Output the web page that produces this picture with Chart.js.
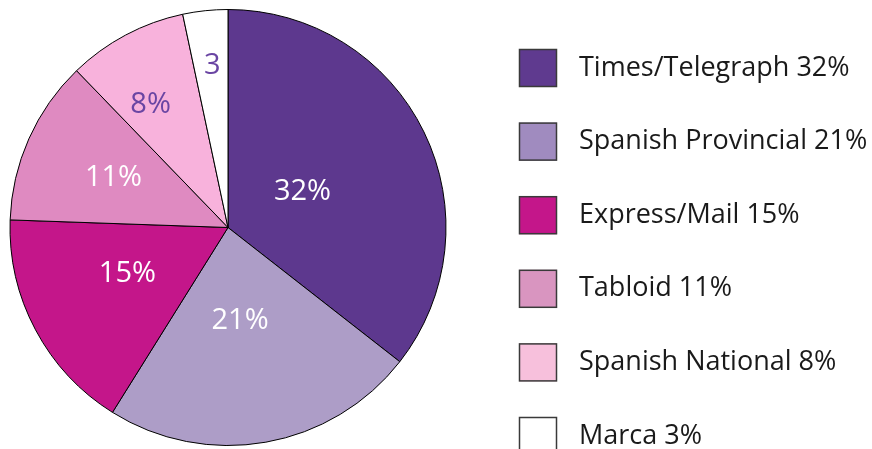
<!DOCTYPE html>
<html>
<head>
<meta charset="utf-8">
<script src="https://cdn.jsdelivr.net/npm/chart.js@4/dist/chart.umd.min.js"></script>
<style>
html,body{margin:0;padding:0;background:#fff;}
#wrap{position:relative;width:872px;height:449px;}
</style>
</head>
<body>
<div id="wrap"><canvas id="c" width="872" height="449"></canvas></div>
<script>
const categories = ["Times/Telegraph", "Spanish Provincial", "Express/Mail", "Tabloid", "Spanish National", "Marca"];
const values = [32, 21, 15, 11, 8, 3];
const sliceLabels = ["32%", "21%", "15%", "11%", "8%", "3"];
const legendLabels = ["Times/Telegraph 32%", "Spanish Provincial 21%", "Express/Mail 15%", "Tabloid 11%", "Spanish National 8%", "Marca 3%"];

const sliceColors = ["#5d388e", "#ad9dc7", "#c4168a", "#df8ac1", "#f8b2dc", "#ffffff"];
const legendColors = ["#5f3a8f", "#a08bbf", "#c4168a", "#d995c0", "#f7c0dc", "#ffffff"];
const labelColors = ["#ffffff", "#ffffff", "#ffffff", "#ffffff", "#6a45a3", "#6a45a3"];
const labelRadius = [0.38, 0.425, 0.505, 0.575, 0.67, 0.75];
const labelAngleShift = [0, 2.5, 4, 0, -4, 0.5];

const sliceLabelPlugin = {
  id: 'sliceLabels',
  afterDatasetsDraw(chart) {
    const ctx = chart.ctx;
    const meta = chart.getDatasetMeta(0);
    ctx.save();
    ctx.font = '29px "Open Sans"';
    ctx.textAlign = 'center';
    ctx.textBaseline = 'middle';
    meta.data.forEach((arc, i) => {
      const p = arc.getProps(['x','y','startAngle','endAngle','outerRadius'], true);
      const a = (p.startAngle + p.endAngle) / 2 + labelAngleShift[i] * Math.PI / 180;
      const r = p.outerRadius * labelRadius[i];
      ctx.fillStyle = labelColors[i];
      ctx.fillText(sliceLabels[i], p.x + Math.cos(a) * r, p.y + Math.sin(a) * r + 1);
    });
    ctx.restore();
  }
};

const legendPlugin = {
  id: 'customLegend',
  afterDraw(chart) {
    const ctx = chart.ctx;
    ctx.save();
    const x0 = 519, boxSize = 38, top0 = 49, step = 73.6;
    ctx.font = '27px "Open Sans"';
    ctx.textBaseline = 'middle';
    ctx.textAlign = 'left';
    legendLabels.forEach((t, i) => {
      const y = top0 + i * step;
      ctx.fillStyle = legendColors[i];
      ctx.fillRect(x0, y, boxSize, boxSize);
      ctx.strokeStyle = '#3a3a3a';
      ctx.lineWidth = 1.5;
      ctx.strokeRect(x0 + 0.5, y + 0.5, boxSize - 1, boxSize - 1);
      ctx.fillStyle = '#1a1a1a';
      ctx.fillText(t, 579, y + boxSize / 2);
    });
    ctx.restore();
  }
};

new Chart(document.getElementById('c'), {
  type: 'pie',
  data: {
    labels: categories,
    datasets: [{
      data: values,
      backgroundColor: sliceColors,
      borderColor: '#000000',
      borderWidth: 1
    }]
  },
  options: {
    responsive: false,
    animation: false,
    events: [],
    layout: { padding: { left: 9, top: 9, right: 425, bottom: 3 } },
    plugins: { legend: { display: false }, tooltip: { enabled: false } }
  },
  plugins: [sliceLabelPlugin, legendPlugin]
});
</script>
</body>
</html>
